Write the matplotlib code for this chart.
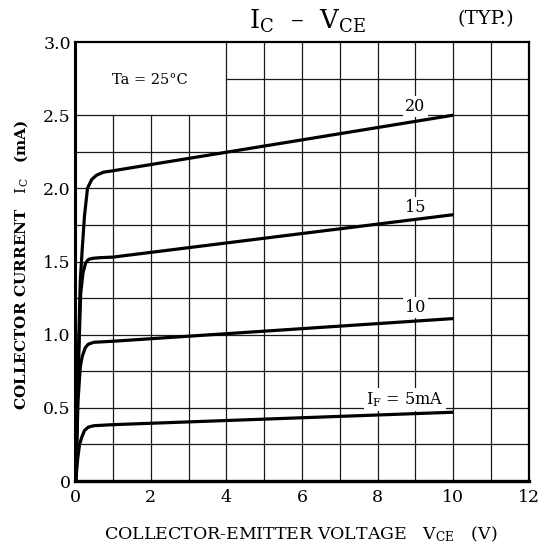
import matplotlib
matplotlib.use("Agg")
import matplotlib.pyplot as plt

plt.rcParams['font.family'] = ['DejaVu Serif']
plt.rcParams['mathtext.fontset'] = 'custom'
plt.rcParams['mathtext.rm'] = 'DejaVu Serif'
plt.rcParams['mathtext.it'] = 'DejaVu Serif'

# Collector current curves for each forward current (V_CE in V, I_C in mA)
vce_20 = [0.02, 0.08, 0.14, 0.19, 0.25, 0.33, 0.44, 0.57, 0.75, 1.0, 10.0]
ic_20 = [0.0, 0.76, 1.37, 1.58, 1.81, 2.00, 2.06, 2.09, 2.11, 2.12, 2.50]

vce_15 = [0.02, 0.08, 0.15, 0.21, 0.28, 0.36, 0.48, 0.65, 1.0, 10.0]
ic_15 = [0.0, 0.70, 1.28, 1.42, 1.49, 1.515, 1.522, 1.526, 1.53, 1.82]

vce_10 = [0.02, 0.08, 0.14, 0.19, 0.27, 0.35, 0.5, 1.0, 10.0]
ic_10 = [0.0, 0.55, 0.78, 0.85, 0.91, 0.935, 0.948, 0.955, 1.11]

vce_5 = [0.02, 0.07, 0.12, 0.18, 0.25, 0.35, 0.5, 1.0, 10.0]
ic_5 = [0.0, 0.15, 0.25, 0.30, 0.345, 0.368, 0.378, 0.385, 0.47]

curves = [(vce_20, ic_20), (vce_15, ic_15), (vce_10, ic_10), (vce_5, ic_5)]

# Curve labels: text, x, y
curve_labels = ["20", "15", "10", r"$\mathrm{I_F}$ = 5mA"]
label_x = [9.0, 9.0, 9.0, 8.72]
label_y = [2.56, 1.87, 1.185, 0.555]

x_ticks = [0, 2, 4, 6, 8, 10, 12]
y_ticks = [0, 0.5, 1.0, 1.5, 2.0, 2.5, 3.0]
y_tick_labels = ["0", "0.5", "1.0", "1.5", "2.0", "2.5", "3.0"]

fig = plt.figure(figsize=(5.44, 5.51), dpi=100)
ax = fig.add_axes([75 / 544, 1 - 481 / 551, 454 / 544, 439 / 551])
ax.set_xlim(0, 12)
ax.set_ylim(0, 3.0)

# Grid: every 1 V and 0.25 mA, left clear inside the temperature box
grid_kw = dict(color='#1a1a1a', lw=0.9, zorder=1)
for gx in range(1, 12):
    top = 2.5 if gx < 4 else 3.0
    ax.plot([gx, gx], [0, top], **grid_kw)
for i in range(1, 12):
    gy = i * 0.25
    left = 4 if gy > 2.5 else 0
    ax.plot([left, 12], [gy, gy], **grid_kw)

for vx, iy in curves:
    ax.plot(vx, iy, color='black', lw=2.3, solid_capstyle='butt',
            solid_joinstyle='round', zorder=4)

for txt, tx, ty in zip(curve_labels, label_x, label_y):
    ax.text(tx, ty, txt, ha='center', va='center', fontsize=11.5, zorder=3,
            bbox=dict(facecolor='white', edgecolor='none', pad=1.5))

ax.text(1.98, 2.74, "Ta = 25°C", ha='center', va='center', fontsize=10.5)

ax.set_xticks(x_ticks)
ax.set_yticks(y_ticks)
ax.set_yticklabels(y_tick_labels)
ax.tick_params(length=0, labelsize=12.5, pad=6)
ax.tick_params(axis='y', pad=3)

for side, w in [('left', 2.2), ('bottom', 2.4), ('top', 1.6), ('right', 1.6)]:
    ax.spines[side].set_linewidth(w)
    ax.spines[side].set_zorder(5)

fig.text(0.553, 0.031, r"COLLECTOR-EMITTER VOLTAGE   $\mathrm{V_{CE}}$   (V)",
         ha='center', va='center', fontsize=12.5)
fig.text(0.038, 0.52, r"COLLECTOR CURRENT   $\mathrm{I_C}$   (mA)",
         ha='center', va='center', rotation=90, fontsize=11, fontweight='bold')
fig.text(0.565, 0.962, r"$\mathrm{I_C}$  –  $\mathrm{V_{CE}}$",
         ha='center', va='center', fontsize=18.5)
fig.text(0.893, 0.966, "(TYP.)", ha='center', va='center', fontsize=14)

fig.savefig("out.png", dpi=100)
